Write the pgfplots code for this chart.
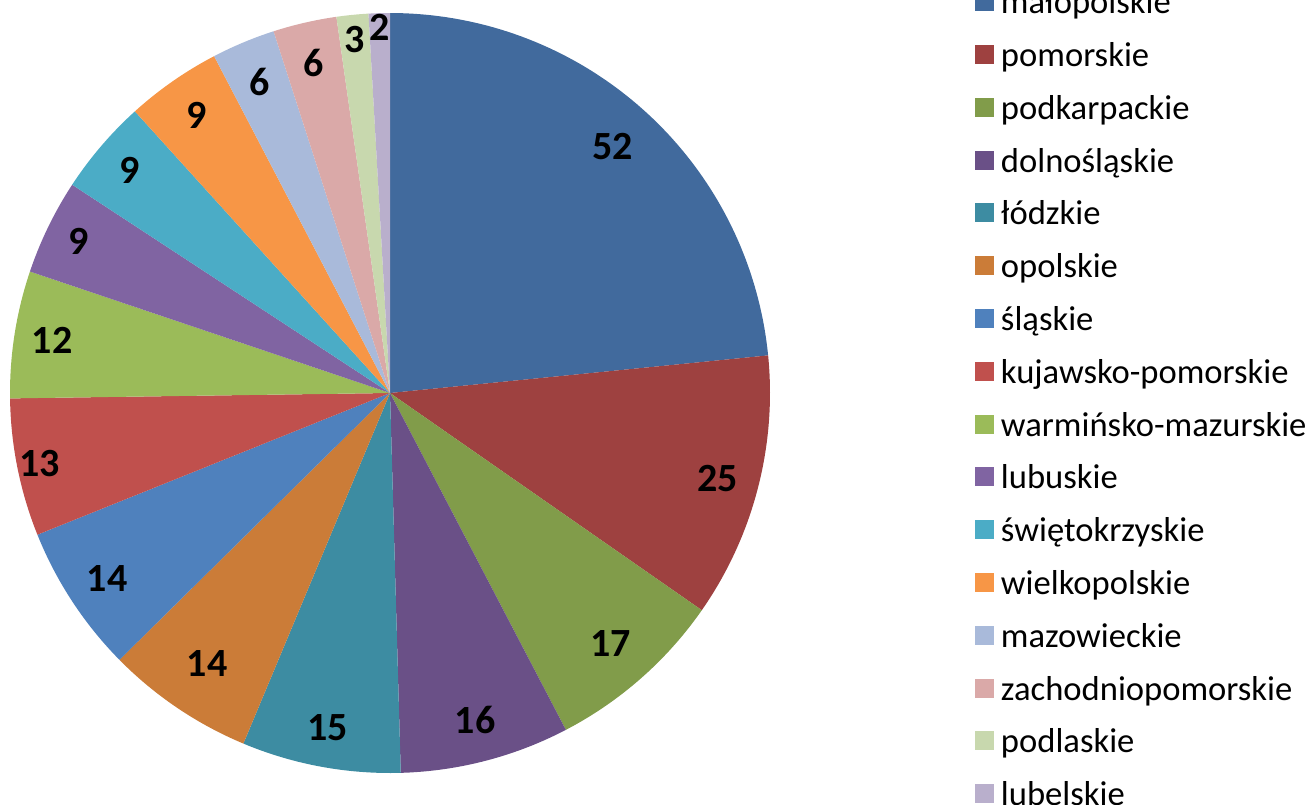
\documentclass[border=0pt]{standalone}
\usepackage{pgfplots}
\usepackage{pgfplotstable}
\pgfplotsset{compat=1.18}
\usepackage{fontspec}
\setmainfont{Carlito}

\definecolor{col0}{HTML}{416A9D}
\definecolor{col1}{HTML}{9E4140}
\definecolor{col2}{HTML}{819C4A}
\definecolor{col3}{HTML}{6A5087}
\definecolor{col4}{HTML}{3D8CA2}
\definecolor{col5}{HTML}{CB7C38}
\definecolor{col6}{HTML}{4F81BD}
\definecolor{col7}{HTML}{C0504D}
\definecolor{col8}{HTML}{9BBB59}
\definecolor{col9}{HTML}{8064A2}
\definecolor{col10}{HTML}{4BACC6}
\definecolor{col11}{HTML}{F79646}
\definecolor{col12}{HTML}{A9BADA}
\definecolor{col13}{HTML}{DAA9A8}
\definecolor{col14}{HTML}{C8D8AE}
\definecolor{col15}{HTML}{B9AFCC}

\pgfplotstableread{
name value labr
małopolskie 52 0.874
pomorskie 25 0.891
podkarpackie 17 0.88
dolnośląskie 16 0.89
łódzkie 15 0.895
opolskie 14 0.86
śląskie 14 0.89
kujawsko-pomorskie 13 0.94
warmińsko-mazurskie 12 0.90
lubuskie 9 0.91
świętokrzyskie 9 0.90
wielkopolskie 9 0.89
mazowieckie 6 0.886
zachodniopomorskie 6 0.89
podlaskie 3 0.934
lubelskie 2 0.963
}\data

\tikzset{lbl/.style={font=\bfseries\fontsize{20}{24}\selectfont, inner sep=0pt}}

\begin{document}
\begin{tikzpicture}
\begin{axis}[
  at={(0,0)}, anchor=center,
  x=190pt, y=190pt,
  xmin=-1, xmax=1, ymin=-1, ymax=1,
  hide axis, clip=false,
  legend cell align=left,
  legend image code/.code={\fill[#1] (0pt,-4.25pt) rectangle (9.5pt,5.25pt);},
  legend style={at={(1.2697,0.4924)}, anchor=west, draw=none, fill=none,
    inner sep=0pt, outer sep=0pt, row sep=9.4pt, column sep=3.5pt,
    nodes={inner sep=0pt, text height=14pt, text depth=3pt},
    font=\fontsize{17.3}{21}\selectfont},
]
\def\total{0}
\pgfplotsforeachungrouped \i in {0,...,15}{%
  \pgfplotstablegetelem{\i}{value}\of{\data}%
  \pgfmathsetmacro\total{\total+\pgfplotsretval}%
}
\def\cum{0}
\pgfplotsforeachungrouped \i in {0,...,15}{%
  \pgfplotstablegetelem{\i}{value}\of{\data}\let\v\pgfplotsretval
  \pgfplotstablegetelem{\i}{name}\of{\data}\let\nm\pgfplotsretval
  \pgfplotstablegetelem{\i}{labr}\of{\data}\let\lr\pgfplotsretval
  \pgfmathsetmacro\a{90-\cum/\total*360}%
  \pgfmathsetmacro\cum{\cum+\v}%
  \pgfmathsetmacro\b{90-\cum/\total*360}%
  \pgfmathsetmacro\m{(\a+\b)/2}%
  \pgfmathsetmacro\lx{\lr*cos(\m)}%
  \pgfmathsetmacro\ly{\lr*sin(\m)}%
  \pgfmathtruncatemacro\vv{\v}%
  \edef\temp{%
    \noexpand\addplot[fill=col\i, draw=none, domain=\b:\a, samples=80]
      ({cos(x)},{sin(x)}) -- (axis cs:0,0) -- cycle;
    \noexpand\addlegendentry{\nm}
    \noexpand\node[lbl] at (axis cs:\lx,\ly) {\vv};
  }%
  \temp
}
\end{axis}
\pgfresetboundingbox
\useasboundingbox (-195pt,-205.5pt) rectangle (460pt,196.5pt);
\end{tikzpicture}
\end{document}
